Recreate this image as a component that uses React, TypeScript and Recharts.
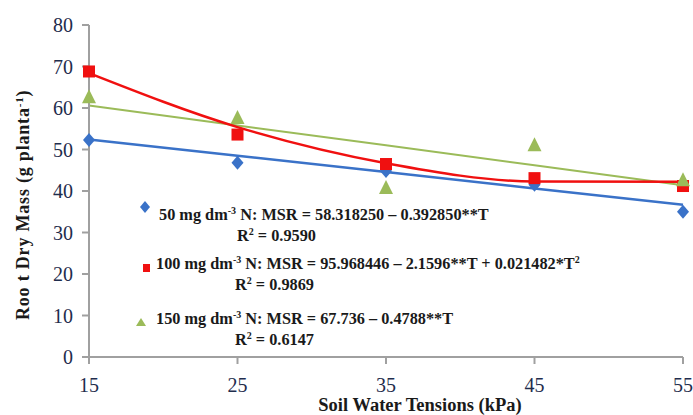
import React from 'react';
import { ComposedChart, Line, Scatter, XAxis, YAxis, Customized } from 'recharts';

const tensions = [15, 25, 35, 45, 55];
const n50 = [52.3, 46.8, 44.8, 41.5, 35.0];
const n100 = [68.8, 53.6, 46.5, 43.1, 41.2];
const n150 = [62.6, 57.6, 40.7, 51.0, 42.6];
const fit50 = [52.4, 48.5, 44.6, 40.6, 36.7];
const fit100 = [68.4, 55.4, 46.7, 42.3, 42.2];
const fit150 = [60.6, 55.8, 51.0, 46.2, 41.4];
const yTicks = [0, 10, 20, 30, 40, 50, 60, 70, 80];

const eq50 = ['50 mg dm', '-3', ' N: MSR = 58.318250 \u2013 0.392850**T'];
const eq100 = ['100 mg dm', '-3', ' N: MSR = 95.968446 \u2013 2.1596**T + 0.021482*T', '2'];
const eq150 = ['150 mg dm', '-3', ' N: MSR = 67.736 \u2013 0.4788**T'];
const r2Values = ['0.9590', '0.9869', '0.6147'];

const xTitle = 'Soil Water Tensions (kPa)';
const yTitle = ['Roo t Dry Mass  (g planta', '-1', ')'];

const BLUE = '#3a72c8';
const RED = '#f01010';
const GREEN = '#9bbb59';
const FONT = 'Liberation Serif';
const TICK = '#1f2d4d';

const rows = tensions.map((t, i) => ({
  t,
  b: n50[i],
  r: n100[i],
  g: n150[i],
  bf: fit50[i],
  rf: fit100[i],
  gf: fit150[i],
}));

const Diamond = (p: any) => (
  <polygon
    points={`${p.cx},${p.cy - 7} ${p.cx + 6},${p.cy} ${p.cx},${p.cy + 7} ${p.cx - 6},${p.cy}`}
    fill={BLUE}
  />
);
const Square = (p: any) => <rect x={p.cx - 6} y={p.cy - 6} width={12} height={12} fill={RED} />;
const Triangle = (p: any) => (
  <polygon points={`${p.cx},${p.cy - 8} ${p.cx + 7},${p.cy + 6} ${p.cx - 7},${p.cy + 6}`} fill={GREEN} />
);

const XTick = (p: any) => (
  <text x={p.x} y={p.y + 14} textAnchor="middle" fontFamily={FONT} fontSize={20} fill={TICK}>
    {p.payload.value}
  </text>
);
const YTick = (p: any) => (
  <text x={p.x} y={p.y + 7} textAnchor="end" fontFamily={FONT} fontSize={20} fill={TICK}>
    {p.payload.value}
  </text>
);

const Eq = ({ x, y, parts }: { x: number; y: number; parts: string[] }) => (
  <text x={x} y={y} fontFamily={FONT} fontWeight="bold" fontSize={16.3} fill="#1a1a1a">
    <tspan>{parts[0]}</tspan>
    <tspan dy={-6} fontSize={10}>{parts[1]}</tspan>
    <tspan dy={6}>{parts[2]}</tspan>
    {parts[3] ? (
      <tspan dy={-6} fontSize={10}>
        {parts[3]}
      </tspan>
    ) : null}
  </text>
);

const R2 = ({ x, y, v }: { x: number; y: number; v: string }) => (
  <text x={x} y={y} fontFamily={FONT} fontWeight="bold" fontSize={16.3} fill="#1a1a1a">
    <tspan>R</tspan>
    <tspan dy={-6} fontSize={10}>2</tspan>
    <tspan dy={6}>{' = ' + v}</tspan>
  </text>
);

const Overlay = () => (
  <g>
    <polygon points="145,201 150,207 145,213 140,207" fill={BLUE} />
    <Eq x={159} y={220} parts={eq50} />
    <R2 x={237} y={241} v={r2Values[0]} />
    <rect x={143} y={264} width={7} height={8} fill={RED} />
    <Eq x={156} y={269} parts={eq100} />
    <R2 x={235} y={290} v={r2Values[1]} />
    <polygon points="141,318 146,326 136,326" fill={GREEN} />
    <Eq x={156} y={324} parts={eq150} />
    <R2 x={235} y={345} v={r2Values[2]} />
    <text x={420} y={411} textAnchor="middle" fontFamily={FONT} fontWeight="bold" fontSize={18.5} fill="#1a1a1a">
      {xTitle}
    </text>
    <text
      transform="translate(29,320) rotate(-90)"
      textAnchor="start"
      fontFamily={FONT}
      fontWeight="bold"
      fontSize={18}
      letterSpacing={0.8}
      fill="#1a1a1a"
    >
      <tspan>{yTitle[0]}</tspan>
      <tspan dy={-6} fontSize={11}>{yTitle[1]}</tspan>
      <tspan dy={6}>{yTitle[2]}</tspan>
    </text>
  </g>
);

export default function App() {
  return (
    <div style={{ position: 'absolute', left: 0, top: 0, width: 693, height: 415, background: '#fff' }}>
      <ComposedChart width={693} height={415} data={rows} margin={{ top: 25, right: 10, left: 0, bottom: 0 }}>
        <XAxis
          dataKey="t"
          type="number"
          domain={[15, 55]}
          ticks={tensions}
          height={58}
          tickSize={7}
          tickMargin={14}
          stroke="#a0a0a0"
          strokeWidth={2}
          tick={XTick}
        />
        <YAxis
          type="number"
          domain={[0, 80]}
          ticks={yTicks}
          width={89}
          tickSize={7}
          tickMargin={9}
          stroke="#a0a0a0"
          strokeWidth={2}
          tick={YTick}
        />
        <Scatter dataKey="b" shape={Diamond} isAnimationActive={false} />
        <Scatter dataKey="r" shape={Square} isAnimationActive={false} />
        <Scatter dataKey="g" shape={Triangle} isAnimationActive={false} />
        <Line dataKey="bf" type="linear" stroke={BLUE} strokeWidth={2.5} dot={false} isAnimationActive={false} />
        <Line dataKey="gf" type="linear" stroke={GREEN} strokeWidth={2} dot={false} isAnimationActive={false} />
        <Line dataKey="rf" type="monotoneX" stroke={RED} strokeWidth={2.5} dot={false} isAnimationActive={false} />
        <Customized component={Overlay} />
      </ComposedChart>
    </div>
  );
}
